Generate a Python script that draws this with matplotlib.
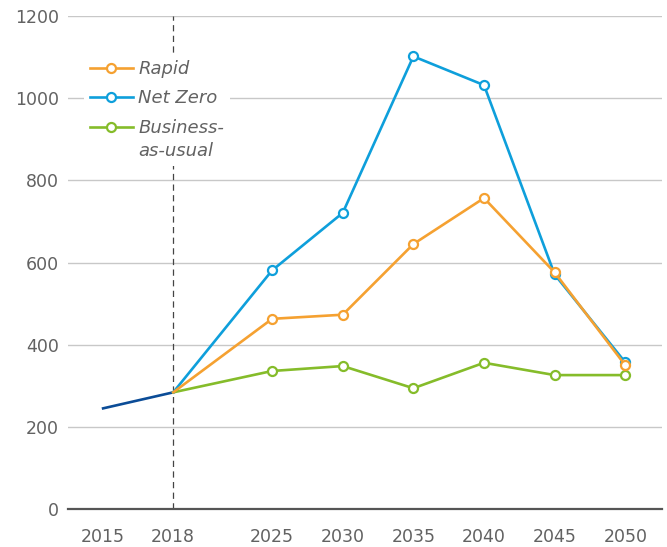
import matplotlib
matplotlib.use('Agg')
import matplotlib.pyplot as plt
import numpy as np
from matplotlib.legend_handler import HandlerLine2D

plt.rcParams['font.family'] = ['DejaVu Sans']

# 数据
hist_years = [2015, 2018]
hist_vals = [245, 284]

years = [2018, 2025, 2030, 2035, 2040, 2045, 2050]
rapid = [284, 463, 473, 645, 757, 576, 350]
net_zero = [284, 581, 721, 1102, 1032, 571, 357]
bau = [284, 336, 348, 294, 356, 326, 326]

x_ticks = [2015, 2018, 2025, 2030, 2035, 2040, 2045, 2050]
y_ticks = [0, 200, 400, 600, 800, 1000, 1200]

C_RAPID = '#F5A131'
C_NZ = '#0E9FDB'
C_BAU = '#85BC2A'
C_HIST = '#0B4C97'
TXT = '#626262'


# 2018年以前的年份在横轴上拉伸显示
STRETCH = 1.655


def fwd(x):
    x = np.asarray(x, dtype=float)
    return np.where(x < 2018, 2018 - (2018 - x) * STRETCH, x)


def inv(x):
    x = np.asarray(x, dtype=float)
    return np.where(x < 2018, 2018 - (2018 - x) / STRETCH, x)


class TopAlignedHandler(HandlerLine2D):
    """图例句柄与多行标签的第一行对齐"""
    def __init__(self, shift=0, **kw):
        super().__init__(**kw)
        self.shift = shift

    def create_artists(self, legend, orig_handle, xdescent, ydescent,
                       width, height, fontsize, trans):
        arts = super().create_artists(legend, orig_handle, xdescent, ydescent,
                                      width, height, fontsize, trans)
        for a in arts:
            a.set_ydata(np.asarray(a.get_ydata()) + self.shift * fontsize)
        return arts


fig = plt.figure(figsize=(6.67, 5.47), dpi=100)
ax = fig.add_axes([0.102, 0.0695, 0.8905, 0.901])
ax.set_xscale('function', functions=(fwd, inv))

ax.set_xlim(2013.5, 2052.6)
ax.set_ylim(0, 1200)

# 网格线
for yv in y_ticks[1:]:
    ax.axhline(yv, color='#c8c8c8', lw=1.0, zorder=1)

ax.axvline(2018, color='#444444', lw=0.9, ls=(0, (5, 3.5)), zorder=1.5)

mk = dict(marker='o', markersize=6.5, markerfacecolor='white', markeredgewidth=1.6,
          markevery=slice(1, None), lw=1.9, zorder=3)
ax.plot(hist_years, hist_vals, color=C_HIST, lw=1.9, zorder=3)
l_bau, = ax.plot(years, bau, color=C_BAU, label='Business-\nas-usual', **mk)
l_nz, = ax.plot(years, net_zero, color=C_NZ, label='Net Zero', **mk)
l_rapid, = ax.plot(years, rapid, color=C_RAPID, label='Rapid', **mk)

ax.set_xticks(x_ticks)
ax.set_xticklabels([str(t) for t in x_ticks])
ax.set_yticks(y_ticks)
ax.tick_params(length=0, labelsize=12.5, colors=TXT)
ax.tick_params(axis='x', pad=14)
ax.tick_params(axis='y', pad=6.5)

for s in ['top', 'right', 'left']:
    ax.spines[s].set_visible(False)
ax.spines['bottom'].set_color('#555555')
ax.spines['bottom'].set_linewidth(1.6)
ax.spines['bottom'].set_zorder(4)

leg = ax.legend([l_rapid, l_nz, l_bau], ['Rapid', 'Net Zero', 'Business-\nas-usual'],
                loc='upper left', bbox_to_anchor=(0.012, 0.94),
                prop=dict(size=13, style='italic'),
                frameon=True, facecolor='white', edgecolor='none', framealpha=1,
                fancybox=False, borderpad=0.3, handlelength=2.4, handletextpad=0.3,
                labelspacing=0.62,
                handler_map={l_bau: TopAlignedHandler(shift=0.7)})
for t in leg.get_texts():
    t.set_color(TXT)
    t.set_linespacing(1.4)
leg.set_zorder(5)

fig.savefig('out.png', dpi=100)
